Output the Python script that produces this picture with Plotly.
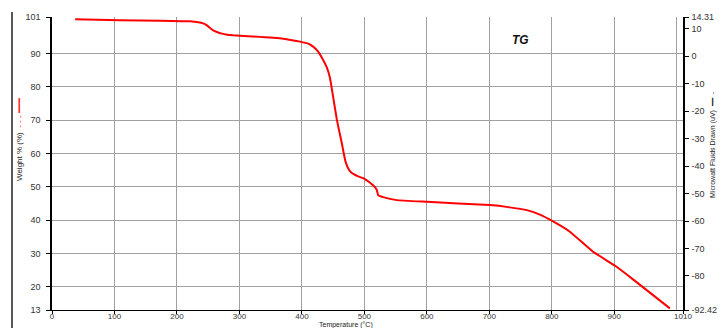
import plotly.graph_objects as go

# ---- data (TG curve) ----
temperature_c = [37, 109, 173, 221, 242, 248, 253, 258, 264, 272, 280, 290, 301, 370, 397, 410, 418, 426,
                 434, 440, 445, 450, 456, 460, 464, 467, 470, 474, 478, 483, 488, 498, 505, 512,
                 517, 520, 522, 530, 552, 600, 701, 730, 760, 780, 802, 829, 866, 902, 930, 989]
weight_pct = [100.3, 100.0, 99.9, 99.7, 99.1, 98.5, 97.7, 97.0, 96.5, 96.0, 95.7, 95.5, 95.4, 94.5, 93.6, 93.0, 92.1, 90.6,
              88.1, 85.8, 82.7, 77.0, 70.1, 66.5, 63.0, 60.0, 57.5, 55.6, 54.5, 53.8, 53.3, 52.6, 51.8, 50.8,
              49.9, 49.0, 47.5, 46.9, 46.0, 45.5, 44.5, 43.9, 43.0, 41.7, 39.6, 36.5, 30.5, 26.2, 22.2, 13.5]

x_ticks = [0, 100, 200, 300, 400, 500, 600, 700, 800, 900, 1010]
x_grid = [0, 100, 200, 300, 400, 500, 600, 700, 800, 900, 1000]
y_left_ticks = [13, 20, 30, 40, 50, 60, 70, 80, 90, 101]
y_right_ticks = [-92.42, -80, -70, -60, -50, -40, -30, -20, -10, 0, 10, 14.31]

x_range = [0, 1010]
y_left_range = [13, 101]
y_right_range = [-92.42, 14.31]

FONT = "Liberation Sans"
tickfont = dict(family=FONT, size=9, color="#333333")

fig = go.Figure()
fig.add_trace(go.Scatter(x=temperature_c, y=weight_pct, mode="lines",
                         line=dict(color="#ff0000", width=2, shape="spline", smoothing=0.3),
                         xaxis="x", yaxis="y", showlegend=False, hoverinfo="skip"))
# empty traces so overlay axes render
fig.add_trace(go.Scatter(x=[None], y=[None], xaxis="x2", yaxis="y", showlegend=False))
fig.add_trace(go.Scatter(x=[None], y=[None], xaxis="x", yaxis="y2", showlegend=False))

fig.update_layout(
    width=722, height=328,
    margin=dict(l=52, r=39, t=17, b=18, autoexpand=False),
    paper_bgcolor="white", plot_bgcolor="white",
    xaxis=dict(range=x_range, tickvals=x_ticks, ticktext=[str(v) for v in x_ticks],
               showgrid=False, zeroline=False, showline=True, linecolor="black", linewidth=1,
               ticks="outside", ticklen=3, tickcolor="black",
               tickfont=dict(family=FONT, size=8, color="#333333"), automargin=False,
               ticklabelstandoff=-5),
    xaxis2=dict(range=x_range, overlaying="x", tickvals=x_grid, showgrid=True,
                gridcolor="#a0a0a0", gridwidth=1, showticklabels=False, ticks="",
                zeroline=False, showline=False, automargin=False),
    yaxis=dict(range=y_left_range, tickvals=y_left_ticks, ticktext=[str(v) for v in y_left_ticks],
               showgrid=True, gridcolor="#a0a0a0", gridwidth=1, zeroline=False,
               showline=True, linecolor="black", linewidth=1.5,
               ticks="outside", ticklen=4, tickcolor="black", tickfont=tickfont, automargin=False,
               ticklabelstandoff=4),
    yaxis2=dict(range=y_right_range, overlaying="y", side="right", tickvals=y_right_ticks,
                ticktext=[("%g" % v) for v in y_right_ticks], showgrid=False, zeroline=False,
                showline=True, linecolor="black", linewidth=1.5,
                ticks="outside", ticklen=4, tickcolor="black", tickfont=tickfont, automargin=False,
                ticklabelstandoff=1),
)

annotations = [
    dict(text="Temperature (°C)", xref="paper", yref="paper", x=(346 - 52) / 631, y=-(324.5 - 310) / 293,
         xanchor="center", yanchor="middle", showarrow=False, font=dict(family=FONT, size=7, color="#222")),
    dict(text="Weight % (%)  <span style='color:#ff0000'>- - - ━━━</span>", xref="paper", yref="paper",
         x=(19 - 52) / 631, y=1 - (140 - 17) / 293, textangle=-90, xanchor="center", yanchor="middle",
         showarrow=False, font=dict(family=FONT, size=8, color="#222")),
    dict(text="Microwatt Fluids Drawn (uV)  ━━  -", xref="paper", yref="paper",
         x=(713 - 52) / 631, y=1 - (145 - 17) / 293, textangle=-90, xanchor="center", yanchor="middle",
         showarrow=False, font=dict(family=FONT, size=7, color="#222")),
    dict(text="<b><i>TG</i></b>", xref="paper", yref="paper", x=(520 - 52) / 631, y=1 - (40 - 17) / 293,
         xanchor="center", yanchor="middle", showarrow=False, font=dict(family=FONT, size=12, color="#111")),
]
fig.update_layout(annotations=annotations)

fig.add_shape(type="line", xref="paper", yref="paper",
              x0=(12 - 52) / 631, x1=(12 - 52) / 631, y0=1 + (17 - 12) / 293, y1=-(328 - 310) / 293,
              line=dict(color="#222", width=1.5))

fig.write_html("out.html")
